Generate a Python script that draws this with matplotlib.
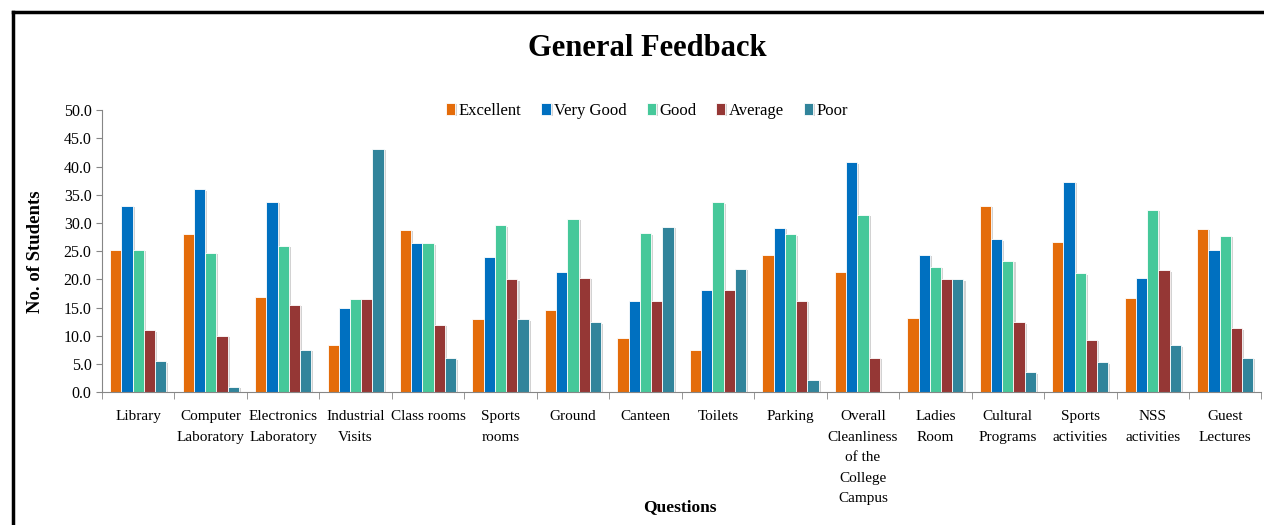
import numpy as np
import matplotlib.pyplot as plt
import matplotlib.patheffects as pe
from matplotlib.lines import Line2D

plt.rcParams['font.family'] = ['Liberation Serif', 'DejaVu Serif']

## Data
questions = ['Library', 'Computer\nLaboratory', 'Electronics\nLaboratory', 'Industrial\nVisits',
             'Class rooms', 'Sports\nrooms', 'Ground', 'Canteen', 'Toilets', 'Parking',
             'Overall\nCleanliness\nof the\nCollege\nCampus', 'Ladies\nRoom', 'Cultural\nPrograms',
             'Sports\nactivities', 'NSS\nactivities', 'Guest\nLectures']
series_names = ['Excellent', 'Very Good', 'Good', 'Average', 'Poor']

excellent = [25.3, 28.0, 16.8, 8.3, 28.8, 12.9, 14.5, 9.6, 7.4, 24.4, 21.3, 13.2, 33.1, 26.6, 16.7, 29.0]
very_good = [33.0, 36.0, 33.8, 14.9, 26.4, 23.9, 21.4, 16.2, 18.1, 29.1, 40.8, 24.4, 27.1, 37.3, 20.3, 25.2]
good      = [25.3, 24.7, 26.0, 16.5, 26.4, 29.6, 30.7, 28.2, 33.7, 28.0, 31.5, 22.2, 23.3, 21.1, 32.3, 27.7]
average   = [11.0, 10.0, 15.5, 16.5, 11.9, 20.0, 20.3, 16.2, 18.1, 16.2, 6.1, 20.0, 12.4, 9.3, 21.6, 11.3]
poor      = [5.5, 1.0, 7.5, 43.2, 6.0, 12.9, 12.4, 29.3, 21.9, 2.2, 0.0, 20.0, 3.5, 5.3, 8.3, 6.1]

colors = ['#E46C0A', '#0070C0', '#46C89A', '#953735', '#31849B']

fig = plt.figure(figsize=(12.64, 5.25), dpi=100)
ax = fig.add_axes([0.0807, 0.253, 0.9173, 0.537])

x = np.arange(len(questions))
w = 0.155
shadow = [pe.SimplePatchShadow(offset=(1.5, -1), shadow_rgbFace='#808080', alpha=0.35), pe.Normal()]
for k, vals in enumerate([excellent, very_good, good, average, poor]):
    ax.bar(x + (k - 2) * w, vals, w, color=colors[k], edgecolor='white', linewidth=0.6,
           label=series_names[k], path_effects=shadow, zorder=2)

ax.set_xlim(-0.5, len(questions) - 0.5)
ax.set_ylim(0, 50)
ax.set_yticks(np.arange(0, 50.1, 5))
ax.set_yticklabels(['%.1f' % v for v in np.arange(0, 50.1, 5)])

# category labels centred, ticks at the boundaries
ax.set_xticks(x)
ax.set_xticklabels(questions, fontsize=11, linespacing=1.75, va='top')
ax.set_xticks(np.arange(-0.5, len(questions)), minor=True)
ax.tick_params(axis='x', which='major', length=0, pad=13)
ax.tick_params(axis='x', which='minor', length=5, color='#868686', direction='out')
ax.tick_params(axis='y', length=4, color='#868686', labelsize=11.5, direction='out')

for s in ['top', 'right']:
    ax.spines[s].set_visible(False)
for s in ['left', 'bottom']:
    ax.spines[s].set_color('#868686')

ax.set_ylabel('No. of Students', fontsize=13.5, fontweight='bold', labelpad=14)
fig.text(0.538, 0.035, 'Questions', fontsize=12.5, fontweight='bold', ha='center', va='center')
fig.text(0.512, 0.908, 'General Feedback', fontsize=22, fontweight='bold', ha='center', va='center')

ax.legend(loc='center', bbox_to_anchor=(0.47, 0.998), ncol=5, frameon=False, fontsize=12,
          handlelength=0.55, handleheight=0.75, handletextpad=0.2, columnspacing=1.2)

# black frame (left + top)
fig.add_artist(Line2D([0.0099, 0.0099], [0.0, 0.978], color='black', linewidth=2.5))
fig.add_artist(Line2D([0.0099, 1.0], [0.978, 0.978], color='black', linewidth=2.5))

plt.savefig('out.png', dpi=100)
